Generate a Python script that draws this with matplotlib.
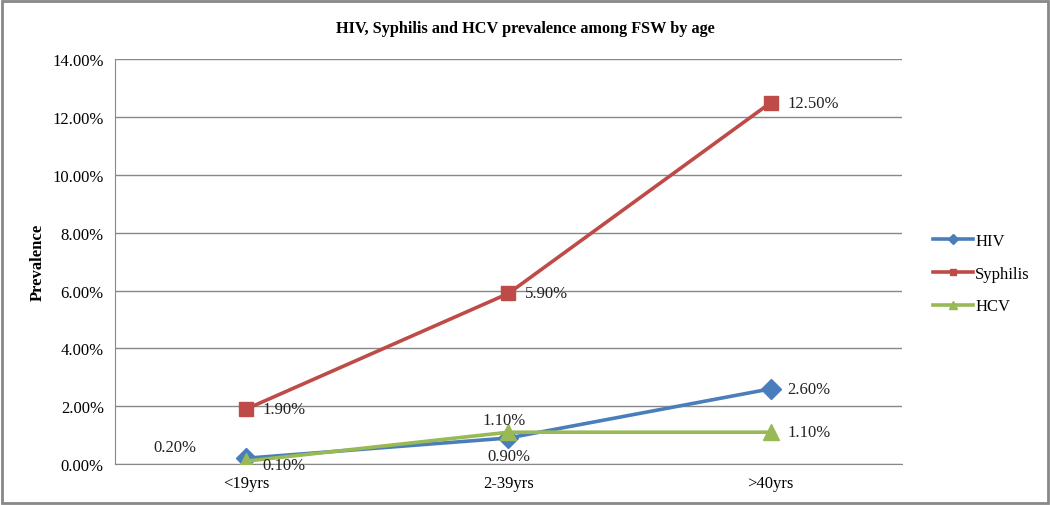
import matplotlib.pyplot as plt
from matplotlib.ticker import FuncFormatter

plt.rcParams["font.family"] = ["Liberation Serif", "DejaVu Serif"]

categories = ["<19yrs", "2-39yrs", ">40yrs"]
hiv = [0.20, 0.90, 2.60]
syphilis = [1.90, 5.90, 12.50]
hcv = [0.10, 1.10, 1.10]

series = [
    ("HIV", hiv, "#4A7EBB", "D", 10),
    ("Syphilis", syphilis, "#BE4B48", "s", 10),
    ("HCV", hcv, "#98B954", "^", 12),
]
# label offsets in points (dx, dy, ha, va) per series per point
offsets = {
    "HIV": [(-36, 8, "right", "center"), (0, -13, "center", "center"), (12, 0, "left", "center")],
    "Syphilis": [(12, 0, "left", "center"), (12, 0, "left", "center"), (12, 0, "left", "center")],
    "HCV": [(12, -3, "left", "center"), (-3, 9, "center", "center"), (12, 0, "left", "center")],
}

fig = plt.figure(figsize=(10.5, 5.06), dpi=100)
ax = fig.add_axes([0.1095, 0.081, 0.7495, 0.8])
x = list(range(len(categories)))

for name, vals, color, marker, ms in series:
    ax.plot(x, vals, color=color, lw=2.6, marker=marker, markersize=ms,
            label=name, zorder=3)
    for xi, v, (dx, dy, ha, va) in zip(x, vals, offsets[name]):
        ax.annotate(f"{v:.2f}%", (xi, v), xytext=(dx, dy), textcoords="offset points",
                    ha=ha, va=va, fontsize=12, color="#222222", zorder=4)

ax.set_xlim(-0.5, 2.5)
ax.set_ylim(0, 14)
ax.set_yticks(range(0, 15, 2))
ax.yaxis.set_major_formatter(FuncFormatter(lambda v, _: f"{v:.2f}%"))
ax.set_xticks(x)
ax.set_xticklabels(categories)
ax.tick_params(length=0, labelsize=12, pad=8)
ax.grid(axis="y", color="#888888", lw=1)
ax.set_axisbelow(True)
for side in ["top", "right"]:
    ax.spines[side].set_visible(False)
ax.spines["left"].set_color("#888888")
ax.spines["bottom"].set_color("#888888")
ax.set_ylabel("Prevalence", fontsize=12, fontweight="bold", labelpad=5)

fig.text(0.5, 0.943, "HIV, Syphilis and HCV prevalence among FSW by age",
         ha="center", va="center", fontsize=11.7, fontweight="bold")

leg = ax.legend(loc="center left", bbox_to_anchor=(1.02, 0.47), frameon=False,
                fontsize=12, markerscale=0.5, handlelength=2.4, labelspacing=1.0,
                handletextpad=0.15)

# outer border
fig.patches.append(plt.Rectangle((0.002, 0.004), 0.996, 0.992, transform=fig.transFigure,
                                 fill=False, edgecolor="#888888", lw=2))

fig.savefig("out.png", dpi=100)
